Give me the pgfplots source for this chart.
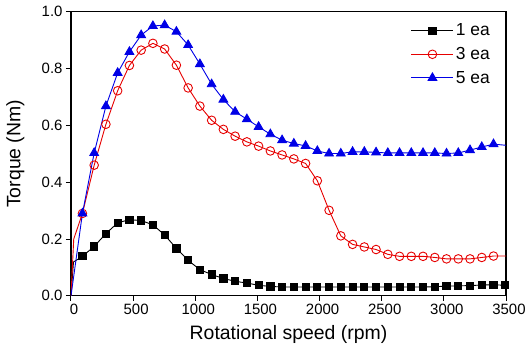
\documentclass[border=0pt]{standalone}
\usepackage{pgfplots}
\pgfplotsset{compat=1.18}
\usepackage{fontspec}
\setmainfont{Liberation Sans}
\definecolor{myred}{RGB}{230,0,0}
\definecolor{myblue}{RGB}{0,0,230}
\begin{document}
\begin{tikzpicture}
\useasboundingbox (-71bp,-62.5bp) rectangle (460bp,295.8bp);
\begin{axis}[
  scale only axis,
  width=435bp, height=284bp,
  xmin=0, xmax=3500, ymin=0, ymax=1,
  xtick={0,500,...,3500},
  ytick={0,0.2,...,1.0},
  axis line style={line width=1.1bp},
  tick align=outside,
  tick pos=left,
  major tick length=5bp,
  every tick/.style={line width=1bp, black},
  /pgf/number format/assume math mode=true,
  xticklabel style={/pgf/number format/1000 sep={}, font=\fontsize{15}{17}\selectfont, xshift=3bp},
  yticklabel style={/pgf/number format/fixed, /pgf/number format/fixed zerofill, /pgf/number format/precision=1, font=\fontsize{15}{17}\selectfont},
  label style={font=\fontsize{19.5}{23}\selectfont},
  xlabel={Rotational speed (rpm)},
  ylabel={Torque (Nm)},
  xlabel style={at={(axis description cs:0.5,0)}, anchor=north, yshift=-26bp},
  ylabel style={at={(axis description cs:0,0.5)}, anchor=south, yshift=43bp},
  legend style={draw=none, fill=none, at={(1,1)}, anchor=north east, xshift=-12bp, yshift=-8bp,
    font=\fontsize{17.5}{20}\selectfont, row sep=6bp, inner sep=2bp},
  legend cell align=left,
  legend image code/.code={\draw[mark indices={2}] plot coordinates {(0bp,0bp) (21bp,0bp) (42bp,0bp)};},
]
\addplot[black, line width=0.9bp, mark=square*, mark size=3.6bp, mark options={solid}, mark indices={3,...,39}] coordinates {
(0,0) (20,0.119)
(92,0.139) (186.5,0.174) (281,0.219) (375.5,0.257) (470,0.268) (564.5,0.265) (659,0.250) (753.5,0.214) (848,0.167) (942.5,0.125)
(1037,0.092) (1131.5,0.075) (1226,0.061) (1320.5,0.051) (1415,0.045) (1509.5,0.037) (1604,0.033) (1698.5,0.031) (1793,0.031) (1887.5,0.031)
(1982,0.031) (2076.5,0.031) (2171,0.031) (2265.5,0.031) (2360,0.031) (2454.5,0.031) (2549,0.031) (2643.5,0.031) (2738,0.031) (2832.5,0.031)
(2927,0.032) (3021.5,0.034) (3116,0.035) (3210.5,0.036) (3305,0.038) (3399.5,0.039) (3494,0.037)
};
\addlegendentry{1 ea}
\addplot[myred, line width=0.9bp, mark=o, mark size=4.3bp, mark options={solid, fill=white, line width=0.9bp}, mark indices={3,...,38}] coordinates {
(0,0) (22,0.20)
(92,0.290) (186.5,0.460) (281,0.604) (375.5,0.722) (470,0.811) (564.5,0.865) (659,0.889) (753.5,0.869) (848,0.812) (942.5,0.732)
(1037,0.668) (1131.5,0.618) (1226,0.586) (1320.5,0.562) (1415,0.542) (1509.5,0.527) (1604,0.510) (1698.5,0.496) (1793,0.482) (1887.5,0.466)
(1982,0.405) (2076.5,0.301) (2171,0.211) (2265.5,0.181) (2360,0.172) (2454.5,0.163) (2549,0.146) (2643.5,0.139) (2738,0.139) (2832.5,0.139)
(2927,0.135) (3021.5,0.130) (3116,0.130) (3210.5,0.130) (3305,0.135) (3399.5,0.140) (3500,0.140)
};
\addlegendentry{3 ea}
\addplot[myblue, line width=0.9bp, mark=triangle*, mark size=5bp, mark options={solid}, mark indices={2,...,37}] coordinates {
(0,0)
(92,0.290) (186.5,0.503) (281,0.668) (375.5,0.785) (470,0.859) (564.5,0.918) (659,0.950) (753.5,0.953) (848,0.930) (942.5,0.883)
(1037,0.816) (1131.5,0.745) (1226,0.691) (1320.5,0.648) (1415,0.622) (1509.5,0.595) (1604,0.569) (1698.5,0.548) (1793,0.536) (1887.5,0.528)
(1982,0.510) (2076.5,0.501) (2171,0.501) (2265.5,0.507) (2360,0.507) (2454.5,0.505) (2549,0.503) (2643.5,0.503) (2738,0.503) (2832.5,0.503)
(2927,0.503) (3021.5,0.501) (3116,0.503) (3210.5,0.513) (3305,0.524) (3399.5,0.534) (3500,0.530)
};
\addlegendentry{5 ea}
\end{axis}
\end{tikzpicture}
\end{document}
